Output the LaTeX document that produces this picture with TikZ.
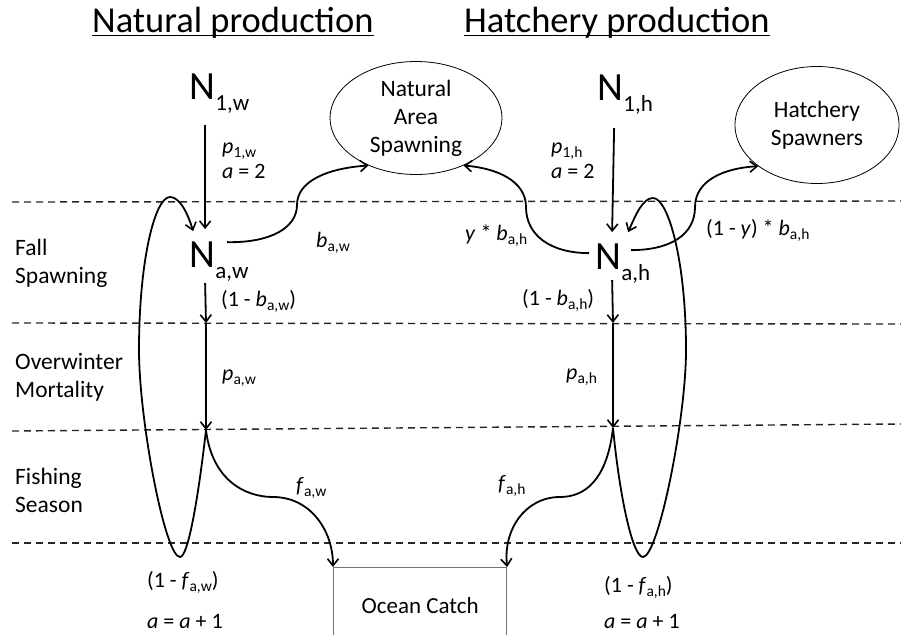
\documentclass[tikz,border=0pt]{standalone}
\usepackage{fontspec}
\setmainfont{Carlito}
\usetikzlibrary{arrows.meta,shapes.geometric}
\newcommand{\lsub}[1]{\raisebox{-4pt}{\fontsize{15.5}{16}\selectfont #1}}
\newcommand{\Nsub}[1]{{\fontsize{23}{24}\selectfont #1}}
\tikzset{
  arr/.style={line width=1.8pt,-{Straight Barb[length=7pt,width=11pt,line width=1.6pt]}},
  sep/.style={dash pattern=on 7pt off 5pt,line width=1.4pt,black!85},
  lab/.style={inner sep=0pt,anchor=base west,font=\fontsize{22}{24}\selectfont},
  stage/.style={inner sep=0pt,anchor=base west,align=left,font=\fontsize{23.5}{28}\selectfont},
  bigN/.style={inner sep=0pt,anchor=base west,font=\fontsize{40}{40}\selectfont},
  Nsubsc/.style={inner sep=0pt,anchor=base west},
  title/.style={inner sep=0pt,anchor=base west,font=\fontsize{36.5}{40}\selectfont},
  oval/.style={ellipse,draw,line width=0.8pt,inner sep=0pt,align=center,font=\fontsize{23.5}{28}\selectfont},
  catchbox/.style={draw=black!55,line width=1.2pt,inner sep=0pt,font=\fontsize{23}{24}\selectfont}
}
\begin{document}
\begin{tikzpicture}[x=1pt,y=-1pt]
\useasboundingbox (0,0) rectangle (901,634);
\clip (0,0) rectangle (901,634);

% dashed separators
\draw[sep] (12,202) -- (901,201);
\draw[sep] (12,323) -- (901,324);
\draw[sep] (12,431) -- (901,424);
\draw[sep] (12,543) -- (901,543);

% titles
\node[title] (t1) at (92,33) {Natural production};
\node[title] (t2) at (464,33) {Hatchery production};
\draw[line width=1.8pt] ([yshift=-2.5pt]t1.base west) -- ([yshift=-2.5pt]t1.base east);
\draw[line width=1.8pt] ([yshift=-2.5pt]t2.base west) -- ([yshift=-2.5pt]t2.base east);

% stage labels (base = last line)
\node[stage] (s1) at (15,283) {Fall\\Spawning};
\node[stage] (s2) at (15,397) {Overwinter\\Mortality};
\node[stage] (s3) at (15,512) {Fishing\\Season};

% N nodes
\node[bigN] (N1w) at (189,99) {N};
\node[Nsubsc] (N1ws) at ([yshift=-11pt]N1w.base east) {\Nsub{1,w}};
\node[bigN] (Naw) at (189,267) {N};
\node[Nsubsc] (Naws) at ([yshift=-11pt]Naw.base east) {\Nsub{a,w}};
\node[bigN] (N1h) at (597,100) {N};
\node[Nsubsc] (N1hs) at ([yshift=-11pt]N1h.base east) {\Nsub{1,h}};
\node[bigN] (Nah) at (595,269) {N};
\node[Nsubsc] (Nahs) at ([yshift=-11pt]Nah.base east) {\Nsub{a,h}};

% ellipses
\node[oval,minimum width=172pt,minimum height=113pt] (nas) at (416,118) {Natural\\Area\\Spawning};
\node[oval,minimum width=164pt,minimum height=117pt] (hs) at (817,125) {Hatchery\\Spawners};

% ocean catch box
\node[catchbox,minimum width=173pt,minimum height=76pt,anchor=north west] (oc) at (333,567) {Ocean Catch};

% split coordinates
\coordinate (bw) at (206,323);
\coordinate (fw) at (206,430);
\coordinate (bh) at (613,323);
\coordinate (fh) at (613,428);

% natural vertical arrows
\draw[arr] ([xshift=3pt,yshift=-26pt]N1w.south) -- ([xshift=3pt,yshift=12pt]Naw.north);
\draw[arr] ([xshift=3pt,yshift=-16pt]Naw.south) -- (bw);
\draw[arr] (bw) -- (fw);
% hatchery vertical arrows
\draw[arr] ([xshift=4pt,yshift=-28pt]N1h.south) -- ([xshift=4pt,yshift=11pt]Nah.north);
\draw[arr] ([xshift=4pt,yshift=-11pt]Nah.south) -- (bh);
\draw[arr] (bh) -- (fh);

% spawning flows
\draw[arr] ([xshift=12pt,yshift=-1pt]Naw.north east) .. controls (270,243) and (297,228) .. (297,205)
  .. controls (297,180) and (330,168) .. (nas.225);
\draw[arr] ([xshift=-6pt,yshift=-10pt]Nah.north west) .. controls (550,253) and (526,235) .. (526,207)
  .. controls (526,180) and (495,168) .. (nas.-45);
\draw[arr] ([xshift=10pt,yshift=-7pt]Nah.north east) .. controls (670,250) and (695,235) .. (695,207)
  .. controls (695,180) and (725,168) .. (hs.215);

% fishing flows
\draw[arr] (fw) .. controls (212,480) and (245,497) .. (273,497)
  .. controls (310,497) and (333,530) .. (oc.north west);
\draw[arr] (fh) .. controls (607,480) and (585,497) .. (560,497)
  .. controls (525,497) and (503,530) .. (oc.north east);

% survival loops
\draw[arr] (fw) .. controls (198,500) and (188,557) .. (180,557)
  .. controls (165,557) and (139,420) .. (139,350)
  .. controls (139,260) and (155,197) .. (170,197)
  .. controls (180,197) and (188,214) .. ([xshift=-9pt,yshift=10pt]Naw.north);
\draw[arr] (fh) .. controls (620,500) and (633,557) .. (643,557)
  .. controls (658,557) and (686,420) .. (686,350)
  .. controls (686,260) and (668,198) .. (653,198)
  .. controls (643,198) and (636,214) .. ([xshift=20pt,yshift=11pt]Nah.north);

% labels
\node[lab] (lp1w) at (222,153) {\textit{p}\lsub{1,w}};
\node[lab] (la2w) at (222,178) {\textit{a} = 2};
\node[lab] (lp1h) at (551,153) {\textit{p}\lsub{1,h}};
\node[lab] (la2h) at (551,178) {\textit{a} = 2};
\node[lab] (lbw) at (316,247) {\textit{b}\lsub{a,w}};
\node[lab] (lybh) at (465,240) {\textit{y} * \textit{b}\lsub{a,h}};
\node[lab] (l1ybh) at (706,235) {(1 - \textit{y}) * \textit{b}\lsub{a,h}};
\node[lab] (l1bw) at (221,306) {(1 - \textit{b}\lsub{a,w})};
\node[lab] (l1bh) at (522,305) {(1 - \textit{b}\lsub{a,h})};
\node[lab] (lpaw) at (222,380) {\textit{p}\lsub{a,w}};
\node[lab] (lpah) at (566,379) {\textit{p}\lsub{a,h}};
\node[lab] (lfw) at (296,492) {\textit{f}\lsub{a,w}};
\node[lab] (lfh) at (498,490) {\textit{f}\lsub{a,h}};
\node[lab] (l1fw) at (147,587) {(1 - \textit{f}\lsub{a,w})};
\node[lab] (l1fh) at (604,592) {(1 - \textit{f}\lsub{a,h})};
\node[lab] (laaw) at (147,628) {\textit{a} = \textit{a} + 1};
\node[lab] (laah) at (604,628) {\textit{a} = \textit{a} + 1};
\end{tikzpicture}
\end{document}
